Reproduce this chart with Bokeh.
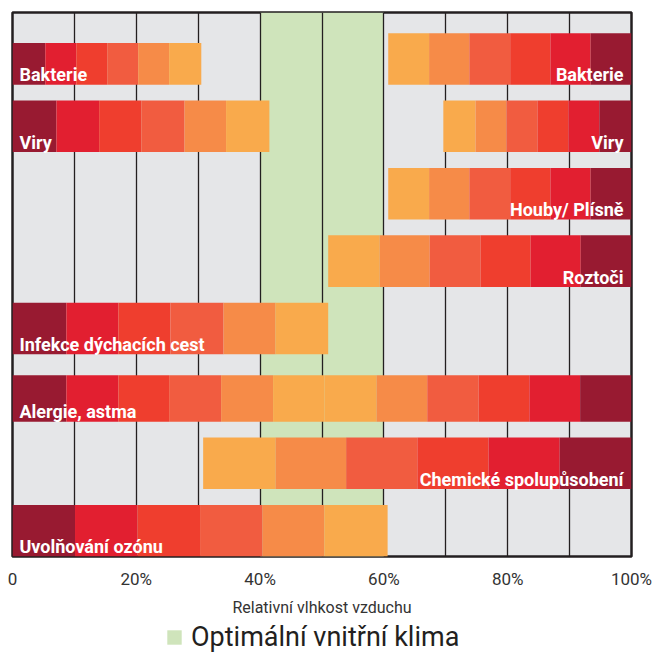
from bokeh.plotting import figure
from bokeh.layouts import column
from bokeh.models import Range1d, FixedTicker, Legend, LegendItem, ColumnDataSource
from bokeh.core.properties import value
from bokeh.embed import file_html
from bokeh.resources import INLINE

# ---------------- data ----------------
categories = ["Bakterie", "Viry", "Houby/ Plísně", "Roztoči",
              "Infekce dýchacích cest", "Alergie, astma",
              "Chemické spolupůsobení", "Uvolňování ozónu"]

# segment boundaries (% relative humidity); left bars go dark -> light, right bars light -> dark
left_edges = [
    [0, 5.3, 10.3, 15.3, 20.3, 25.3, 30.5],
    [0, 7.1, 14.0, 20.8, 27.8, 34.5, 41.5],
    None,
    None,
    [0, 8.7, 17.1, 25.5, 34.1, 42.5, 51.0],
    [0, 8.7, 17.1, 25.3, 33.7, 42.1, 50.4],
    None,
    [0, 10.1, 20.2, 30.3, 40.4, 50.4, 60.6],
]
right_edges = [
    [60.7, 67.3, 73.8, 80.4, 86.9, 93.4, 100],
    [69.6, 74.8, 79.8, 84.8, 89.8, 94.8, 100],
    [60.7, 67.3, 73.8, 80.4, 86.9, 93.4, 100],
    [51.0, 59.3, 67.4, 75.6, 83.7, 91.8, 100],
    None,
    [50.4, 58.8, 67.0, 75.3, 83.5, 91.7, 100],
    [30.8, 42.5, 53.9, 65.4, 76.9, 88.4, 100],
    None,
]
label_left = [True, True, False, False, True, True, False, True]
label_right = [True, True, True, True, False, False, True, False]

optimal_range = [40, 60]
tick_values = [0, 20, 40, 60, 80, 100]
tick_labels = ["0", "20%", "40%", "60%", "80%", "100%"]
grid_values = [10, 20, 30, 40, 50, 60, 70, 80, 90]
axis_title = "Relativní vlhkost vzduchu"
legend_label = "Optimální vnitřní klima"

# ---------------- style ----------------
palette = ["#981A31", "#E21F30", "#EF3E2E", "#F15C40", "#F68B48", "#F9AA4C"]
FONT = "Roboto"
BAND_COLOR = "#CFE4BB"
BAR_H = 0.765
short_bars = {(0, "left"): 0.62, (5, "left"): 0.69, (5, "right"): 0.69}
Y_LO = -BAR_H / 2
Y_HI = Y_LO + 544 / 67.4

n = len(categories)
p = figure(frame_width=619, frame_height=544,
           x_range=Range1d(0, 100), y_range=Range1d(Y_LO, Y_HI),
           output_backend="svg", toolbar_location=None, y_axis_location=None,
           min_border_left=12, min_border_top=12, min_border_right=21, min_border_bottom=60)
p.background_fill_color = "#E5E6E8"
p.border_fill_color = "white"
p.outline_line_color = "#231F20"
p.outline_line_width = 2.5

p.quad(left=[optimal_range[0]], right=[optimal_range[1]], bottom=[Y_LO], top=[Y_HI],
       fill_color=BAND_COLOR, line_color=None, level="image")

p.xgrid.ticker = FixedTicker(ticks=grid_values)
p.xgrid.grid_line_color = "#231F20"
p.xgrid.grid_line_width = 1.3
p.ygrid.grid_line_color = None

L, R, T, B, C = [], [], [], [], []
lx, ly, ltxt = [], [], []
rx, ry, rtxt = [], [], []
for i, name in enumerate(categories):
    y = n - 1 - i
    base = y - BAR_H / 2
    for side, edges in (("left", left_edges[i]), ("right", right_edges[i])):
        if edges is None:
            continue
        h = short_bars.get((i, side), BAR_H)
        for j in range(6):
            L.append(edges[j]); R.append(edges[j + 1])
            B.append(base); T.append(base + h)
            C.append(palette[j] if side == "left" else palette[5 - j])
    ly_val = base + 0.146
    if label_left[i]:
        lx.append(0); ly.append(ly_val); ltxt.append(name)
    if label_right[i]:
        rx.append(100); ry.append(ly_val); rtxt.append(name)

p.quad(source=ColumnDataSource(dict(left=L, right=R, top=T, bottom=B, color=C)),
       left="left", right="right", top="top", bottom="bottom",
       fill_color="color", line_color=None)

p.text(x=lx, y=ly, text=ltxt, x_offset=7, text_align="left", text_baseline="alphabetic",
       text_color="white", text_font=value(FONT), text_font_style="bold", text_font_size="18px")
p.text(x=rx, y=ry, text=rtxt, x_offset=-8, text_align="right", text_baseline="alphabetic",
       text_color="white", text_font=value(FONT), text_font_style="bold", text_font_size="18px")

ax = p.xaxis[0]
ax.ticker = FixedTicker(ticks=tick_values)
ax.major_label_overrides = {v: s for v, s in zip(tick_values, tick_labels)}
ax.axis_line_color = None
ax.major_tick_line_color = None
ax.minor_tick_line_color = None
ax.major_label_standoff = 6
ax.major_label_text_font = FONT
ax.major_label_text_font_size = "17px"
ax.major_label_text_color = "#333333"
ax.axis_label = axis_title
ax.axis_label_text_font = FONT
ax.axis_label_text_font_size = "16px"
ax.axis_label_text_font_style = "normal"
ax.axis_label_text_color = "#333333"
ax.axis_label_standoff = 6

# legend strip below the chart
p2 = figure(width=652, height=37, x_range=Range1d(0, 1), y_range=Range1d(0, 1),
            output_backend="svg", toolbar_location=None,
            x_axis_location=None, y_axis_location=None,
            min_border_left=0, min_border_right=0, min_border_top=0, min_border_bottom=0)
p2.outline_line_color = None
p2.xgrid.visible = False
p2.ygrid.visible = False
swatch = p2.quad(left=[2], right=[3], bottom=[2], top=[3], fill_color=BAND_COLOR, line_color=None)
legend = Legend(items=[LegendItem(label=legend_label, renderers=[swatch])],
                location=(153, 3), orientation="horizontal",
                border_line_color=None, background_fill_alpha=0,
                label_text_font=FONT, label_text_font_size="27px", label_text_color="#231F20",
                glyph_width=18, glyph_height=18, label_standoff=8,
                padding=0, margin=0)
p2.add_layout(legend, "center")

layout = column(p, p2, spacing=0)
open("out.html", "w").write(file_html(layout, INLINE))
